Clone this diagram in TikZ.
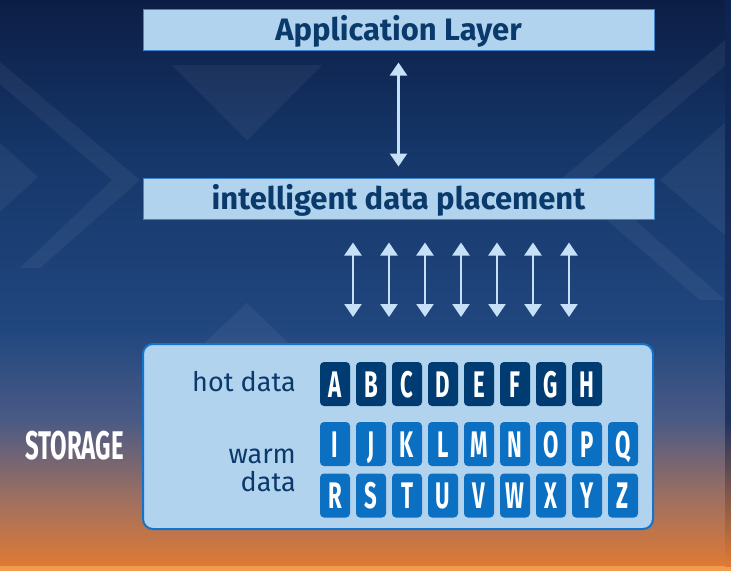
\documentclass[tikz,border=0pt]{standalone}
\usepackage{fontspec}
\setmainfont{Fira Sans}
\newfontfamily\condensed[FakeStretch=0.6]{Fira Sans}
\usetikzlibrary{arrows.meta,calc,positioning}
\definecolor{bgA}{HTML}{0C1E45}
\definecolor{bgB}{HTML}{153669}
\definecolor{bgC}{HTML}{21477F}
\definecolor{bgD}{HTML}{4A5A85}
\definecolor{bgE}{HTML}{A07060}
\definecolor{bgF}{HTML}{DF7A34}
\definecolor{bgG}{HTML}{F29A4E}
\definecolor{edge}{HTML}{0D2352}
\definecolor{boxfill}{HTML}{B2D3EE}
\definecolor{boxline}{HTML}{3F86CC}
\definecolor{storeline}{HTML}{1473C8}
\definecolor{titletext}{HTML}{0A3A6C}
\definecolor{hotblue}{HTML}{003C71}
\definecolor{warmblue}{HTML}{0B6FC2}
\definecolor{arrowblue}{HTML}{C6E1F7}
\begin{document}
\begin{tikzpicture}[x=1pt,y=-1pt,
    layer/.style={draw=boxline,line width=1pt,fill=boxfill,minimum width=511pt,
      minimum height=41pt,inner sep=0pt,text=titletext,text height=23pt,text depth=2pt,
      font=\fontsize{31}{31}\selectfont\bfseries},
    storebox/.style={draw=storeline,line width=2pt,fill=boxfill,rounded corners=10pt,
      minimum width=510pt,minimum height=185pt,inner sep=0pt},
    tile/.style={rounded corners=4pt,minimum width=30pt,minimum height=44pt,inner sep=0pt,
      text height=26pt,text depth=0pt,text=white,
      font=\fontsize{37}{37}\selectfont\condensed\bfseries},
    hot/.style={tile,fill=hotblue},
    warm/.style={tile,fill=warmblue},
    label/.style={text=titletext,font=\fontsize{27}{28}\selectfont,inner sep=0pt},
    twoway/.style={draw=arrowblue,line width=2.2pt,
      {Triangle[width=17pt,length=13pt]}-{Triangle[width=17pt,length=13pt]}},
    chev/.style={fill=white,fill opacity=0.05}]
  % background
  \useasboundingbox (0,0) rectangle (731,571);
  \shade[top color=bgA,bottom color=bgB] (0,0) rectangle (731,150);
  \shade[top color=bgB,bottom color=bgC] (0,150) rectangle (731,330);
  \shade[top color=bgC,bottom color=bgD] (0,330) rectangle (731,420);
  \shade[top color=bgD,bottom color=bgE] (0,420) rectangle (731,500);
  \shade[top color=bgE,bottom color=bgF] (0,500) rectangle (731,566);
  \fill[bgG] (0,566) rectangle (731,571);
  \shade[top color=edge,bottom color=edge!70!bgD] (725,0) rectangle (731,420);
  \shade[top color=edge!70!bgD,bottom color=bgF] (725,420) rectangle (731,566);
  \begin{scope}[chev]
    \fill (0,143) -- (38,177) -- (0,212) -- cycle;
    \fill (725,123) -- (660,180) -- (725,235) -- cycle;
    \fill (172,65) -- (322,65) -- (247,140) -- cycle;
    \fill (154,390) -- (336,390) -- (247,303) -- cycle;
    \fill (0,62) -- (140,180) -- (40,268) -- (20,268) -- (112,180) -- (0,84) -- cycle;
    \fill (725,40) -- (560,180) -- (700,300) -- (725,300) -- (590,180) -- (725,66) -- cycle;
  \end{scope}
  % layers
  \node[layer] (app) at (398.5,29.5) {Application Layer};
  \node[layer] (place) at (398.5,198.5) {intelligent data placement};
  \node[storebox] (store) at (398,436.5) {};
  \node[anchor=west,text=white,inner sep=0pt,
    font=\fontsize{40}{40}\selectfont\condensed\bfseries] (storage) at (25,446) {STORAGE};
  % labels
  \node[label,anchor=base east] (hotlbl) at (296,391) {hot data};
  \node[label,anchor=east,align=right] (warmlbl) at (296,470) {warm\\data};
  % hot tiles
  \node[hot] (A) at (335,384) {A};
  \node[hot] (B) at (371,384) {B};
  \node[hot] (C) at (407,384) {C};
  \node[hot] (D) at (443,384) {D};
  \node[hot] (E) at (479,384) {E};
  \node[hot] (F) at (515,384) {F};
  \node[hot] (G) at (551,384) {G};
  \node[hot] (H) at (587,384) {H};
  % warm tiles
  \node[warm] (I) at (335,444) {I};
  \node[warm] (J) at (371,444) {J};
  \node[warm] (K) at (407,444) {K};
  \node[warm] (L) at (443,444) {L};
  \node[warm] (M) at (479,444) {M};
  \node[warm] (N) at (515,444) {N};
  \node[warm] (O) at (551,444) {O};
  \node[warm] (P) at (587,444) {P};
  \node[warm] (Q) at (623,444) {Q};
  \node[warm] (R) at (335,495.5) {R};
  \node[warm] (S) at (371,495.5) {S};
  \node[warm] (T) at (407,495.5) {T};
  \node[warm] (U) at (443,495.5) {U};
  \node[warm] (V) at (479,495.5) {V};
  \node[warm] (W) at (515,495.5) {W};
  \node[warm] (X) at (551,495.5) {X};
  \node[warm] (Y) at (587,495.5) {Y};
  \node[warm] (Z) at (623,495.5) {Z};
  % arrows
  \coordinate (ab) at ($(A)!.5!(B)$);
  \coordinate (bc) at ($(B)!.5!(C)$);
  \coordinate (cd) at ($(C)!.5!(D)$);
  \coordinate (de) at ($(D)!.5!(E)$);
  \coordinate (ef) at ($(E)!.5!(F)$);
  \coordinate (fg) at ($(F)!.5!(G)$);
  \coordinate (gh) at ($(G)!.5!(H)$);
  \draw[twoway,shorten <=12pt,shorten >=11pt] (app) -- (place);
  \begin{scope}[shorten <=23pt,shorten >=26pt]
    \draw[twoway] (place.south -| ab) -- (store.north -| ab);
    \draw[twoway] (place.south -| bc) -- (store.north -| bc);
    \draw[twoway] (place.south -| cd) -- (store.north -| cd);
    \draw[twoway] (place.south -| de) -- (store.north -| de);
    \draw[twoway] (place.south -| ef) -- (store.north -| ef);
    \draw[twoway] (place.south -| fg) -- (store.north -| fg);
    \draw[twoway] (place.south -| gh) -- (store.north -| gh);
  \end{scope}
\end{tikzpicture}
\end{document}
